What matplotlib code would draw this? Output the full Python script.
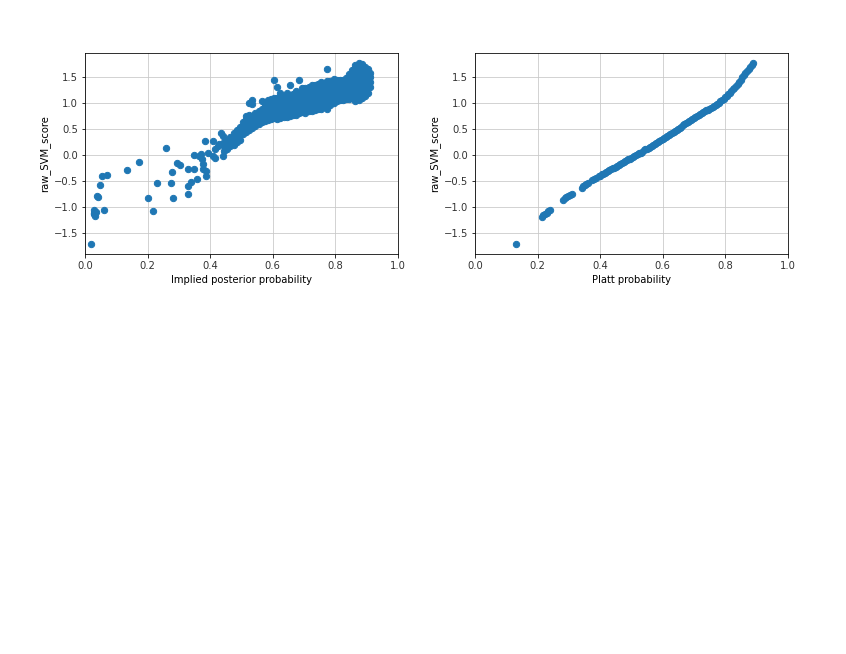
import numpy as np
import matplotlib
matplotlib.use("Agg")
import matplotlib.pyplot as plt

# left panel: scattered points
sparse_x = [0.020, 0.030, 0.030, 0.030, 0.032, 0.035, 0.037, 0.040, 0.048, 0.053,
            0.069, 0.062, 0.135, 0.173, 0.200, 0.218, 0.231, 0.260, 0.276, 0.279,
            0.280, 0.295, 0.305, 0.328, 0.330, 0.330, 0.340, 0.350, 0.358, 0.349,
            0.365, 0.370, 0.375, 0.376, 0.378, 0.383, 0.388, 0.388, 0.394, 0.410,
            0.415, 0.410, 0.417, 0.436, 0.440, 0.440, 0.447, 0.425, 0.430]
sparse_y = [-1.70, -1.05, -1.10, -1.13, -1.17, -1.08, -0.78, -0.80, -0.57, -0.40,
            -0.38, -1.05, -0.28, -0.14, -0.83, -1.07, -0.54, 0.13, -0.54, -0.32,
            -0.82, -0.15, -0.19, -0.27, -0.59, -0.75, -0.52, -0.26, -0.46, 0.00,
            -0.01, 0.02, -0.08, -0.17, -0.27, 0.27, -0.40, -0.30, 0.05, 0.27,
            0.11, -0.01, -0.06, 0.42, 0.37, -0.01, 0.11, 0.18, 0.22]

# left panel: dense band, column by column (x -> list of y)
band_x = [0.445, 0.455, 0.465, 0.475, 0.485, 0.495, 0.505, 0.515, 0.525, 0.535,
          0.545, 0.555, 0.565, 0.575, 0.585, 0.595, 0.605, 0.615, 0.625, 0.635,
          0.645, 0.655, 0.665, 0.675, 0.685, 0.695, 0.705, 0.715, 0.725, 0.735,
          0.745, 0.755, 0.765, 0.775, 0.785, 0.795, 0.805, 0.815, 0.825, 0.835,
          0.845, 0.855, 0.865, 0.875, 0.885, 0.895, 0.905, 0.912]
band_y = [
    [0.08, 0.17, 0.26],
    [0.12, 0.22, 0.30],
    [0.18, 0.26, 0.35],
    [0.20, 0.28, 0.36, 0.42],
    [0.25, 0.33, 0.41, 0.48],
    [0.30, 0.38, 0.46, 0.54],
    [0.40, 0.48, 0.56, 0.64],
    [0.45, 0.53, 0.61, 0.69, 0.75],
    [0.48, 0.56, 0.64, 0.72, 0.78, 1.00],
    [0.52, 0.60, 0.68, 0.76, 1.05, 0.98],
    [0.56, 0.64, 0.72, 0.80],
    [0.60, 0.68, 0.76, 0.84],
    [0.64, 0.72, 0.80, 0.88, 1.03],
    [0.66, 0.74, 0.82, 0.90, 0.98, 1.02],
    [0.68, 0.76, 0.84, 0.92, 1.00, 1.05],
    [0.70, 0.78, 0.86, 0.94, 1.02, 1.07],
    [0.72, 0.80, 0.88, 0.96, 1.04, 1.10, 1.45],
    [0.70, 0.78, 0.86, 0.94, 1.02, 1.10, 1.30],
    [0.72, 0.80, 0.88, 0.96, 1.04, 1.12, 1.20],
    [0.74, 0.82, 0.90, 0.98, 1.06, 1.14],
    [0.74, 0.82, 0.90, 0.98, 1.06, 1.14, 1.20],
    [0.76, 0.84, 0.92, 1.00, 1.08, 1.16, 1.35],
    [0.78, 0.86, 0.94, 1.02, 1.10, 1.18],
    [0.78, 0.86, 0.94, 1.02, 1.10, 1.18, 1.24],
    [0.80, 0.88, 0.96, 1.04, 1.12, 1.20, 1.44],
    [0.82, 0.90, 0.98, 1.06, 1.14, 1.22, 1.28],
    [0.80, 0.88, 0.96, 1.04, 1.12, 1.20, 1.28],
    [0.84, 0.92, 1.00, 1.08, 1.16, 1.24, 1.30],
    [0.84, 0.92, 1.00, 1.08, 1.16, 1.24, 1.34],
    [0.86, 0.94, 1.02, 1.10, 1.18, 1.26, 1.34],
    [0.88, 0.96, 1.04, 1.12, 1.20, 1.28, 1.36],
    [0.88, 0.96, 1.04, 1.12, 1.20, 1.28, 1.36, 1.40],
    [0.92, 1.00, 1.08, 1.16, 1.24, 1.32, 1.38],
    [0.88, 0.96, 1.04, 1.12, 1.20, 1.28, 1.36, 1.42, 1.65],
    [0.96, 1.02, 1.10, 1.18, 1.26, 1.34, 1.42],
    [1.00, 1.08, 1.16, 1.24, 1.32, 1.40, 1.46],
    [1.04, 1.12, 1.20, 1.28, 1.36, 1.44],
    [1.06, 1.14, 1.22, 1.30, 1.38, 1.44],
    [1.06, 1.14, 1.22, 1.30, 1.38, 1.44],
    [1.08, 1.16, 1.24, 1.32, 1.40, 1.48],
    [1.08, 1.16, 1.24, 1.32, 1.40, 1.48, 1.56],
    [1.10, 1.18, 1.26, 1.34, 1.42, 1.50, 1.58, 1.64],
    [1.04, 1.12, 1.20, 1.28, 1.36, 1.44, 1.52, 1.60, 1.68, 1.72],
    [1.06, 1.14, 1.22, 1.30, 1.38, 1.46, 1.54, 1.62, 1.70, 1.76],
    [1.10, 1.18, 1.26, 1.34, 1.42, 1.50, 1.58, 1.66, 1.74],
    [1.14, 1.22, 1.30, 1.38, 1.46, 1.54, 1.62, 1.70],
    [1.20, 1.28, 1.36, 1.44, 1.52, 1.60, 1.66],
    [1.30, 1.40, 1.50, 1.58],
]

# right panel: Platt probability vs score
platt_x = [0.130, 0.213, 0.218, 0.224, 0.229, 0.235, 0.240, 0.282, 0.287, 0.292,
           0.298, 0.303, 0.309, 0.341, 0.346, 0.351, 0.356, 0.362, 0.375, 0.380,
           0.386, 0.396,
           0.400, 0.405, 0.410, 0.415, 0.420, 0.425, 0.430, 0.435, 0.440, 0.445,
           0.450, 0.455, 0.460, 0.465, 0.470, 0.475, 0.480, 0.485, 0.490, 0.495,
           0.500, 0.505, 0.510, 0.515, 0.520, 0.525, 0.530, 0.535, 0.540, 0.545,
           0.550, 0.555, 0.560, 0.565, 0.570, 0.575, 0.580, 0.585, 0.590, 0.595,
           0.600, 0.605, 0.610, 0.615, 0.620, 0.625, 0.630, 0.635, 0.640, 0.645,
           0.650, 0.655, 0.660, 0.665, 0.670, 0.675, 0.680, 0.685, 0.690, 0.695,
           0.700, 0.705, 0.710, 0.715, 0.720, 0.725, 0.730, 0.735, 0.740, 0.745,
           0.750, 0.755, 0.760, 0.765, 0.770, 0.775, 0.780, 0.785, 0.790, 0.795,
           0.800, 0.805, 0.810, 0.815, 0.820, 0.825, 0.830, 0.835, 0.840, 0.845,
           0.850, 0.855, 0.860, 0.865, 0.870, 0.875, 0.880, 0.885, 0.890]
platt_y = [-1.70, -1.18, -1.15, -1.12, -1.10, -1.07, -1.05, -0.86, -0.83, -0.81,
           -0.78, -0.76, -0.74, -0.62, -0.60, -0.58, -0.56, -0.54, -0.48, -0.46,
           -0.44, -0.40,
           -0.39, -0.37, -0.36, -0.34, -0.32, -0.30, -0.29, -0.27, -0.25, -0.24,
           -0.22, -0.20, -0.19, -0.17, -0.15, -0.13, -0.12, -0.10, -0.08, -0.07,
           -0.05, -0.03, -0.02, 0.00, 0.02, 0.04, 0.05, 0.07, 0.09, 0.11,
           0.12, 0.14, 0.16, 0.18, 0.20, 0.21, 0.23, 0.25, 0.27, 0.29,
           0.31, 0.33, 0.35, 0.37, 0.39, 0.41, 0.43, 0.45, 0.47, 0.49,
           0.51, 0.53, 0.55, 0.57, 0.59, 0.61, 0.63, 0.65, 0.67, 0.69,
           0.71, 0.73, 0.75, 0.77, 0.79, 0.81, 0.83, 0.85, 0.86, 0.87,
           0.89, 0.91, 0.93, 0.95, 0.97, 0.99, 1.01, 1.03, 1.06, 1.08,
           1.11, 1.14, 1.17, 1.20, 1.23, 1.26, 1.29, 1.33, 1.37, 1.41,
           1.45, 1.50, 1.54, 1.58, 1.62, 1.66, 1.70, 1.73, 1.77]

left_x = list(sparse_x)
left_y = list(sparse_y)
for bx, col in zip(band_x, band_y):
    for by in col:
        left_x.append(bx)
        left_y.append(by)

fig = plt.figure(figsize=(846 / 72, 654 / 72), dpi=72)
ax1 = fig.add_axes([0.1005, 0.612, 0.3695, 0.307])
ax2 = fig.add_axes([0.5615, 0.612, 0.3695, 0.307])

ax1.scatter(left_x, left_y, s=40, color='#1f77b4')
ax1.set_xlabel('Implied posterior probability')
ax1.set_ylabel('raw_SVM_score')

ax2.scatter(platt_x, platt_y, s=40, color='#1f77b4')
ax2.set_xlabel('Platt probability')
ax2.set_ylabel('raw_SVM_score')

for ax in (ax1, ax2):
    ax.set_xlim(0, 1)
    ax.set_ylim(-1.89, 1.96)
    ax.grid(True, color='#c8c8c8')
    ax.set_axisbelow(True)
    ax.tick_params(labelcolor='#333333')

fig.savefig('out.png', dpi=72)
